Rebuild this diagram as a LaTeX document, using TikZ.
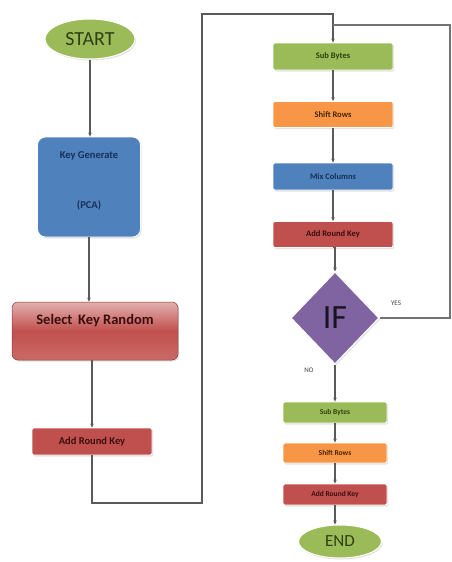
\documentclass[tikz,border=0pt]{standalone}
\usepackage{fontspec}
\setmainfont{Carlito}
\usetikzlibrary{shapes.geometric,arrows.meta,shadows}

\definecolor{ofGreen}{HTML}{9BBB59}
\definecolor{ofBlue}{HTML}{4F81BD}
\definecolor{ofRed}{HTML}{C0504D}
\definecolor{ofOrange}{HTML}{F79646}
\definecolor{ofPurple}{HTML}{8064A2}
\definecolor{txGreen}{HTML}{2E4012}
\definecolor{txBlue}{HTML}{17305A}
\definecolor{txRed}{HTML}{3A0E0D}
\definecolor{txOrange}{HTML}{4A2400}
\definecolor{wire}{HTML}{5A5A5A}

\tikzset{
  soft/.style={drop shadow={opacity=0.22,shadow xshift=1.2pt,shadow yshift=-1.5pt}},
  terminal/.style={ellipse,fill=ofGreen,draw=white,line width=1pt,soft,text=txGreen,inner sep=0pt},
  stepbox/.style={rectangle,rounded corners=2pt,draw=white,line width=0.8pt,soft,
    inner sep=0pt,font=\bfseries\fontsize{8.5}{10}\selectfont},
  greenbox/.style={stepbox,fill=ofGreen,text=txGreen},
  orangebox/.style={stepbox,fill=ofOrange,text=txOrange},
  bluebox/.style={stepbox,fill=ofBlue,text=txBlue},
  redbox/.style={stepbox,fill=ofRed,text=txRed},
  smallfont/.style={font=\bfseries\fontsize{7.5}{9}\selectfont},
  flow/.style={draw=wire,line width=1.1pt,-{Stealth[length=4pt,width=3.5pt]}},
  wireline/.style={draw=wire!85,line width=1.1pt},
  tag/.style={font=\fontsize{7}{8}\selectfont,text=black!75}
}

\begin{document}
\begin{tikzpicture}[x=1pt,y=-1pt]
  \useasboundingbox[fill=white] (0,0) rectangle (452,562);

  % left column: key preparation
  \node[terminal,minimum width=90,minimum height=40,font=\fontsize{20}{22}\selectfont] (start) at (90,39) {START};
  \node[stepbox,fill=ofBlue,rounded corners=8pt,minimum width=103,minimum height=100] (keygen) at (89,187) {};
  \node[text=txBlue,font=\bfseries\fontsize{10.5}{12}\selectfont] (kgtitle) at (89,156) {Key Generate};
  \node[text=txBlue,font=\bfseries\fontsize{10.5}{12}\selectfont] (kgmethod) at (89,205) {(PCA)};
  \node[stepbox,rounded corners=6pt,minimum width=166,minimum height=58,
        top color=ofRed!45!white,bottom color=ofRed!85!white,middle color=ofRed,
        draw=ofRed!70!black,line width=0.5pt] (selkey) at (95,331) {};
  \node[text=txRed,font=\bfseries\fontsize{14.5}{16}\selectfont] (selkeytext) at (95,321) {Select\, Key Random};
  \node[redbox,minimum width=120,minimum height=27,font=\bfseries\fontsize{10.5}{12}\selectfont] (ark1) at (92,441.5) {Add Round Key};

  % right column: one round
  \node[greenbox,minimum width=120,minimum height=27] (sb1) at (333,56.5) {Sub Bytes};
  \node[orangebox,minimum width=120,minimum height=26] (sr1) at (333,114.5) {Shift Rows};
  \node[bluebox,minimum width=120,minimum height=27] (mc1) at (333,176.5) {Mix Columns};
  \node[redbox,minimum width=120,minimum height=26] (ark2) at (333,234.5) {Add Round Key};

  \node[diamond,fill=ofPurple,draw=white,line width=1pt,soft,minimum width=88,minimum height=92,
        inner sep=0pt,text=black!80!ofPurple,font=\fontsize{34}{36}\selectfont] (cond) at (335,318) {IF};

  % final round
  \node[greenbox,smallfont,minimum width=104,minimum height=21] (sb2) at (335,412.5) {Sub Bytes};
  \node[orangebox,smallfont,minimum width=104,minimum height=20] (sr2) at (335,453) {Shift Rows};
  \node[redbox,smallfont,minimum width=104,minimum height=21] (ark3) at (335,494.5) {Add Round Key};
  \node[terminal,minimum width=83,minimum height=33,font=\fontsize{17}{19}\selectfont] (finish) at (340,541.5) {END};

  \node[tag] (yes) at (396,303) {YES};
  \node[tag] (no) at (309,370) {NO};

  % connectors
  \coordinate (lowturn) at (202,503);
  \coordinate (highturn) at (202,14);
  \coordinate (yesturn) at (450,318);
  \coordinate (yesjoin) at (333,25);

  \draw[flow] (start) -- (start.south |- keygen.north);
  \draw[flow] (keygen.south) -- (keygen.south |- selkey.north);
  \draw[flow] (selkey.south -| ark1.north) -- (ark1.north);
  \draw[flow] (ark1.south) |- (lowturn) -- (highturn) -| (sb1.north);
  \draw[flow] (sb1) -- (sr1);
  \draw[flow] (sr1) -- (mc1);
  \draw[flow] (mc1) -- (ark2);
  \draw[flow] (ark2.south) -- (ark2.south -| cond.north) -- (cond.north);
  \draw[wireline] (cond.east) -- (yesturn) |- (yesjoin);
  \draw[flow] (cond.south) -- (sb2.north);
  \draw[flow] (sb2) -- (sr2);
  \draw[flow] (sr2) -- (ark3);
  \draw[flow] (ark3.south) -- (ark3.south |- finish.north);
\end{tikzpicture}
\end{document}
